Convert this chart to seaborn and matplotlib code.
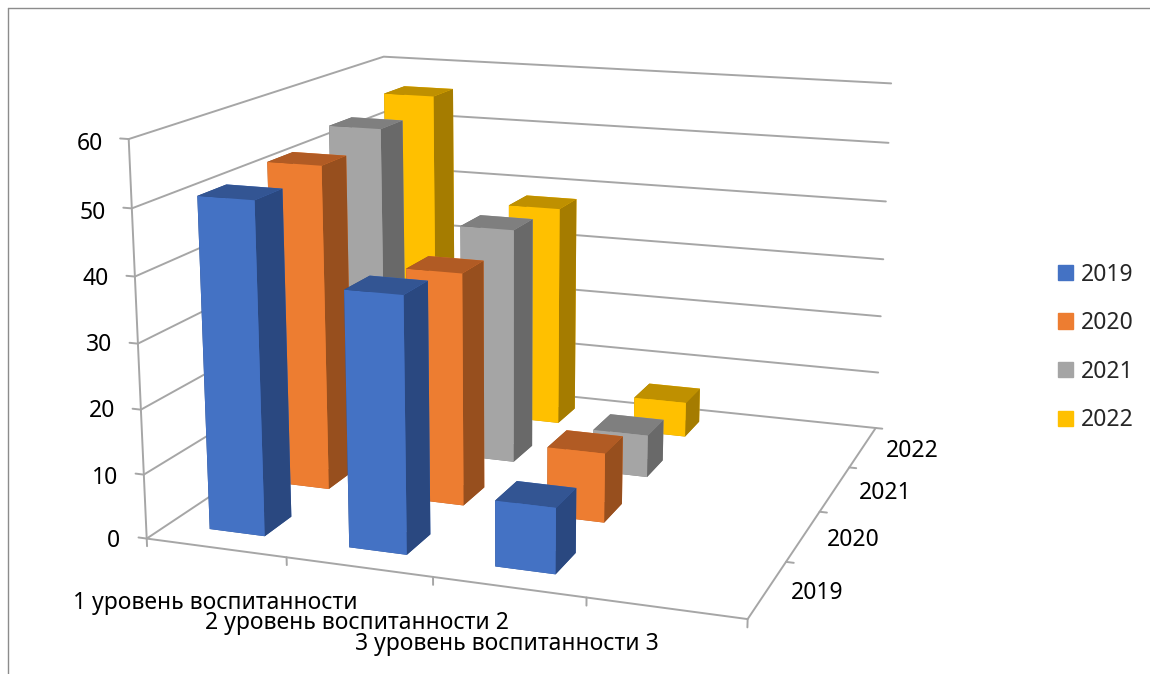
import numpy as np
import matplotlib
matplotlib.use("Agg")
import matplotlib.pyplot as plt
from matplotlib.lines import Line2D
from matplotlib.patches import Patch
import seaborn as sns

levels = ["1 уровень воспитанности", "2 уровень воспитанности 2", "3 уровень воспитанности 3"]
years = ["2019", "2020", "2021", "2022"]
v2019 = [51, 39, 10]
v2020 = [52, 37, 11]
v2021 = [54, 39, 7]
v2022 = [56, 38, 6]
values = [v2019, v2020, v2021, v2022]
z_ticks = [0, 10, 20, 30, 40, 50, 60]

front = sns.color_palette(["#4472C4", "#ED7D31", "#A5A5A5", "#FFC000"])
top = sns.color_palette(["#335593", "#B15B24", "#7F7F7F", "#BF9000"])
side = sns.color_palette(["#2A4880", "#974F1E", "#696969", "#A57C00"])
grid_col = "#A6A6A6"

sns.set_theme(style="white")
plt.rcParams["font.family"] = ["Noto Sans", "DejaVu Sans"]

W, H = 1150, 674
fig = plt.figure(figsize=(W / 100, H / 100), dpi=100, facecolor="white")
# square 3d box covering the whole canvas
ax = fig.add_axes([0, (H - W) / 2 / H, 1, W / H], projection="3d", computed_zorder=False)
ax.set_axis_off()
ax.patch.set_visible(False)
ax.set_autoscale_on(False)

# walls and floor of the chart box, the category axis has one empty slot at the end
n_x, n_y = len(levels) + 1, len(years)
def line3d(xs, ys, zs):
    ax.plot(xs, ys, zs, color=grid_col, lw=1.4, zorder=1)

for z in z_ticks:
    line3d([0, 0, n_x + (0.05 if z == 0 else 0)], [0, n_y, n_y], [z, z, z])
    line3d([-0.06, 0], [0, 0], [z, z])
line3d([0, 0], [0, 0], [-1.2, z_ticks[-1]])
line3d([0, n_x, n_x], [0, 0, n_y], [0, 0, 0])
for i in range(1, n_x + 1):
    line3d([i, i], [0, 0], [-1.2, 0])
for j in range(1, n_y):
    line3d([n_x, n_x + 0.05], [j, j], [0, 0])

# bars, back row first so nearer rows paint over
bar_w = 0.4
for j in reversed(range(n_y)):
    for i in range(len(levels)):
        colors = [top[j], top[j], front[j], front[j], side[j], side[j]]
        ax.bar3d(i + 0.3, j + 0.3, 0, bar_w, bar_w, values[j][i], color=colors,
                 shade=False, edgecolor="none", linewidth=0, zorder=2 + n_y - j)

# camera fitted on axis corners and bar feet
calib = [
    (0, 0, 0, 147, 538), (0, 0, 10, 145, 474), (0, 0, 50, 133, 208), (0, 0, 60, 128, 140),
    (1, 0, 0, 285, 557), (2, 0, 0, 431, 577), (3, 0, 0, 585, 597), (4, 0, 0, 749, 618),
    (4, 1, 0, 787, 561), (4, 2, 0, 818, 512), (4, 3, 0, 848, 468), (4, 4, 0, 875, 428),
    (4, 4, 10, 878, 373), (4, 4, 20, 881, 316), (4, 4, 30, 883, 259), (4, 4, 40, 886, 201.5),
    (4, 4, 50, 889, 142.5), (4, 4, 60, 891, 83), (0, 4, 60, 383, 57),
    (0.3, 0.3, 0, 209, 529), (0.7, 0.3, 0, 264, 536), (0.7, 0.7, 0, 291, 517),
    (0.7, 1.3, 0, 328, 489), (1.3, 0.3, 0, 349, 547), (1.7, 0.3, 0, 408, 554), (1.7, 0.7, 0, 430, 537),
    (1.7, 1.3, 0, 465, 505), (1.7, 2.3, 0, 515, 461), (1.7, 2.7, 0, 532, 447), (1.7, 3.3, 0, 560, 422),
    (1.7, 3.7, 0, 574, 407), (2.3, 0.3, 0, 497, 566), (2.7, 0.3, 0, 555, 574), (2.7, 0.7, 0, 576, 556),
    (2.7, 1.3, 0, 605, 522), (2.7, 1.7, 0, 622, 504), (2.7, 2.3, 0, 647, 477), (2.7, 2.7, 0, 663, 461),
    (2.7, 3.3, 0, 686, 437), (2.7, 3.7, 0, 699, 422),
]
A = []
for x, y, z, px, py in calib:
    X = [x / 4, y / 4, z / 60, 1]
    u, v = (px - 575) / 575, (py - 337) / 575
    A.append(X + [0, 0, 0, 0] + [-u * c for c in X])
    A.append([0, 0, 0, 0] + X + [-v * c for c in X])
P = np.linalg.svd(np.array(A))[2][-1].reshape(3, 4)
P = P @ np.diag([1 / 4, 1 / 4, 1 / 60, 1])
# back to display pixels, then to the view coordinates of the 3d axes
to_px = np.array([[575, 0, 575], [0, -575, H - 337], [0, 0, 1]])
ax.apply_aspect()
P = ax.transData.inverted().get_matrix() @ to_px @ P
P = P / P[2, 3]
# depth is -1/w: stays negative so Line3D keeps every point, and grows with distance
M = np.vstack([P[0], P[1], [0, 0, 0, -1], P[2]])
ax.get_proj = lambda: M

# text is placed in picture pixels
def put(px, py, s, ha="left"):
    fig.text(px / W, 1 - py / H, s, ha=ha, va="center", fontsize=16.5, color="black")

for z, px, py in zip(z_ticks, [120, 118, 115, 112, 109, 106, 103], [541, 478, 411, 345, 279, 213, 144]):
    put(px, py, str(z), ha="right")
for s, px, py in zip(levels, [73, 205, 355], [603, 623, 644]):
    put(px, py, s)
for s, px, py in zip(years, [817, 853, 885, 912], [593, 540, 493, 451]):
    put(px, py, s, ha="center")

handles = [Patch(color=c, label=y) for c, y in zip(front, years)]
fig.legend(handles=handles, loc="center left", bbox_to_anchor=(1058 / W, 1 - 347.5 / H), frameon=False,
           fontsize=16.5, handlelength=0.66, handleheight=0.66, handletextpad=0.35,
           labelspacing=1.07, borderpad=0, borderaxespad=0)

# outer chart frame
for xs, ys in [([8, 8], [8, H]), ([8, W], [8, 8])]:
    fig.add_artist(Line2D([x / W for x in xs], [1 - y / H for y in ys], color="#8C8C8C", lw=1))

fig.savefig("out.png", dpi=100)
